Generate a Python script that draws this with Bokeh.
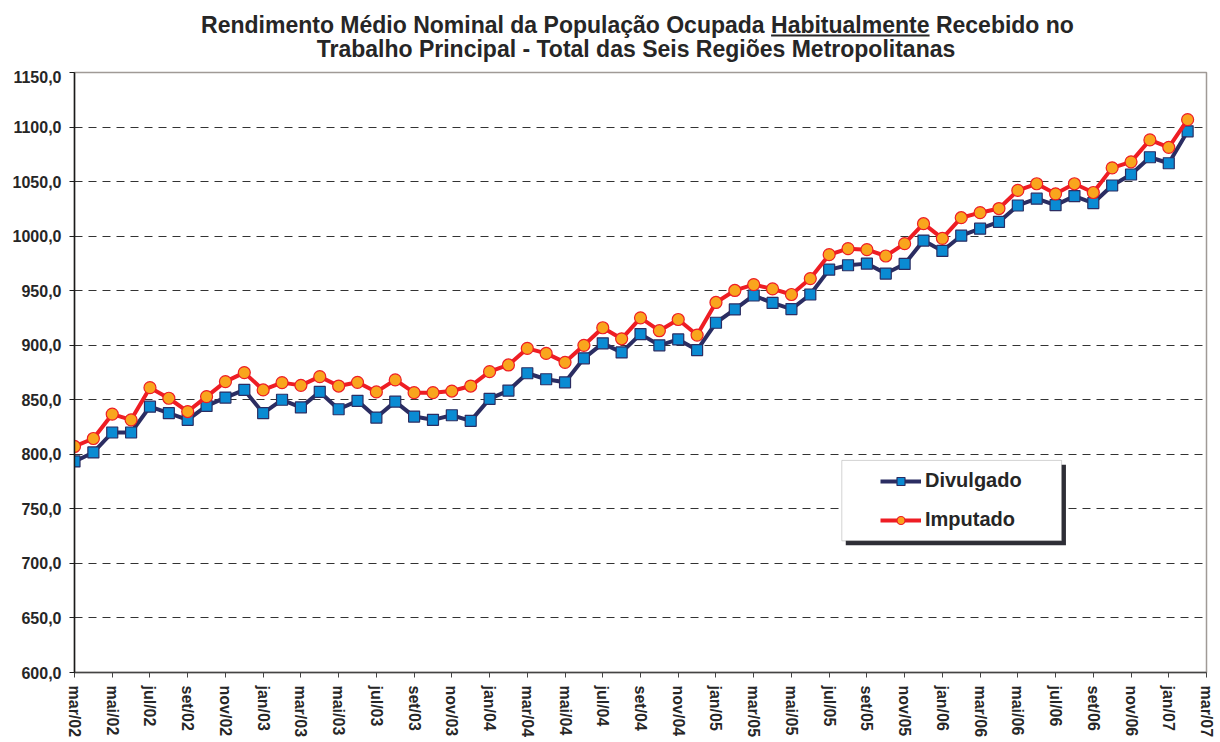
from bokeh.plotting import figure
from bokeh.models import Range1d, FixedTicker, Legend, LegendItem, BoxAnnotation
from bokeh.layouts import column
from bokeh.core.properties import value
from bokeh.embed import file_html
from bokeh.resources import INLINE

# ---------------- data ----------------
months = ["mar/02", "abr/02", "mai/02", "jun/02", "jul/02", "ago/02", "set/02", "out/02", "nov/02", "dez/02",
          "jan/03", "fev/03", "mar/03", "abr/03", "mai/03", "jun/03", "jul/03", "ago/03", "set/03", "out/03", "nov/03", "dez/03",
          "jan/04", "fev/04", "mar/04", "abr/04", "mai/04", "jun/04", "jul/04", "ago/04", "set/04", "out/04", "nov/04", "dez/04",
          "jan/05", "fev/05", "mar/05", "abr/05", "mai/05", "jun/05", "jul/05", "ago/05", "set/05", "out/05", "nov/05", "dez/05",
          "jan/06", "fev/06", "mar/06", "abr/06", "mai/06", "jun/06", "jul/06", "ago/06", "set/06", "out/06", "nov/06", "dez/06",
          "jan/07", "fev/07"]

divulgado = [793.5, 801.7, 820.0, 820.0, 843.7, 837.7, 831.6, 844.4, 852.0, 859.0,
             837.7, 850.0, 843.0, 857.2, 841.3, 849.0, 833.7, 848.3, 834.6, 831.6, 835.8, 830.7,
             850.8, 858.4, 874.3, 868.8, 866.0, 888.0, 901.7, 893.4, 910.2, 899.9, 905.3, 895.6,
             920.6, 932.8, 945.6, 938.8, 933.1, 946.5, 969.3, 973.3, 974.8, 965.7, 974.5, 995.9,
             986.4, 1000.4, 1006.8, 1013.0, 1028.1, 1034.3, 1028.4, 1036.7, 1030.3, 1046.4, 1056.5, 1072.3,
             1066.8, 1096.1]

imputado = [807.2, 814.5, 836.8, 831.6, 861.1, 851.4, 839.2, 852.9, 866.6, 874.9,
            859.0, 865.7, 863.2, 871.2, 862.6, 866.0, 857.2, 868.2, 856.5, 856.5, 858.0, 862.6,
            875.8, 881.9, 897.1, 892.5, 884.3, 899.9, 916.0, 905.9, 925.1, 913.3, 923.6, 909.3,
            939.2, 950.2, 955.6, 951.6, 946.5, 961.1, 983.0, 988.5, 987.6, 981.8, 993.1, 1011.4,
            998.0, 1016.9, 1021.5, 1025.3, 1041.9, 1048.0, 1038.8, 1048.0, 1040.0, 1062.6, 1068.1, 1088.2,
            1081.4, 1106.8]

x_tick_labels = ["mar/02", "mai/02", "jul/02", "set/02", "nov/02",
                 "jan/03", "mar/03", "mai/03", "jul/03", "set/03", "nov/03",
                 "jan/04", "mar/04", "mai/04", "jul/04", "set/04", "nov/04",
                 "jan/05", "mar/05", "mai/05", "jul/05", "set/05", "nov/05",
                 "jan/06", "mar/06", "mai/06", "jul/06", "set/06", "nov/06",
                 "jan/07", "mar/07"]

y_ticks = [600, 650, 700, 750, 800, 850, 900, 950, 1000, 1050, 1100, 1150]

title_line1 = "Rendimento Médio Nominal da População Ocupada Habitualmente Recebido no"
title_line2 = "Trabalho Principal - Total das Seis Regiões Metropolitanas"

# ---------------- layout constants ----------------
FONT = "Liberation Sans"
TXT = "#262626"
W = 1216
TOP_H = 70
ML, MR, MT, MB = 74, 10, 2, 67
MAIN_H = 670

# ---------------- title strip (its own small canvas) ----------------
# In a column the frames are aligned, so the strip's frame spans the same
# pixels as the chart frame: x range is set so that 1 unit = 1 page pixel.
TSIZE = 23
cx = 637.0
# Arial / Liberation Sans Bold advance widths of the title pieces, in em
em_line1, em_before, em_word = 37.95, 24.783, 6.89
em_line2 = 27.898
x1 = cx - em_line1 * TSIZE / 2.0
x2 = cx - em_line2 * TSIZE / 2.0

head = figure(width=W, height=TOP_H, x_range=Range1d(ML, W - MR), y_range=Range1d(TOP_H, 0),
              x_axis_type=None, y_axis_type=None, output_backend="svg", toolbar_location=None,
              min_border=0, min_border_left=ML, min_border_right=MR,
              outline_line_color=None, title=None)
head.grid.visible = False
head.background_fill_color = "white"
head.border_fill_color = "white"
head.text(x=[x1, x2], y=[24, 48], text=[title_line1, title_line2],
          text_align="left", text_baseline="alphabetic",
          text_font=value(FONT), text_font_size=f"{TSIZE}px", text_font_style="bold",
          text_color=TXT)
u0 = x1 + em_before * TSIZE
head.segment(x0=[u0], y0=[35], x1=[u0 + em_word * TSIZE], y1=[35],
             line_color=TXT, line_width=2)

# ---------------- main chart ----------------
x = list(range(len(months)))

p = figure(width=W, height=MAIN_H, title=None,
           x_range=Range1d(0, len(months)), y_range=Range1d(y_ticks[0], y_ticks[-1]),
           output_backend="svg", toolbar_location=None,
           min_border_left=ML, min_border_right=MR, min_border_top=MT, min_border_bottom=MB)

p.background_fill_color = "white"
p.border_fill_color = "white"
p.outline_line_color = "#a09a96"
p.outline_line_width = 1.5

p.xaxis.ticker = FixedTicker(ticks=list(range(0, len(months) + 1, 2)))
p.xaxis.major_label_overrides = {i * 2: lab for i, lab in enumerate(x_tick_labels)}
p.xaxis.major_label_orientation = "vertical"
p.yaxis.ticker = FixedTicker(ticks=y_ticks)
p.yaxis.major_label_overrides = {v: f"{v},0" for v in y_ticks}

for ax in (p.xaxis, p.yaxis):
    ax.major_label_text_font = FONT
    ax.major_label_text_font_style = "bold"
    ax.major_label_text_color = TXT
    ax.major_label_text_font_size = "16px"
    ax.major_tick_in = 0
    ax.major_tick_out = 5
    ax.minor_tick_line_color = None
    ax.major_label_standoff = 8

p.yaxis.axis_line_color = "#1a1a1a"
p.yaxis.major_tick_line_color = "#1a1a1a"
p.xaxis.axis_line_color = "#444444"
p.xaxis.major_tick_line_color = "#444444"
p.yaxis.axis_line_width = 1.5
p.xaxis.axis_line_width = 1.5

p.xgrid.grid_line_color = None
p.ygrid.grid_line_color = "#333333"
p.ygrid.grid_line_dash = "8 6"
p.ygrid.grid_line_width = 1

NAVY = "#2b2d62"
BLUE = "#0a8bd3"
RED = "#ee1d24"
ORANGE = "#f9a51d"

l1 = p.line(x, divulgado, line_color=NAVY, line_width=4)
m1 = p.scatter(x, divulgado, marker="square", size=11, fill_color=BLUE, line_color=NAVY, line_width=1.2)
l2 = p.line(x, imputado, line_color=RED, line_width=4)
m2 = p.scatter(x, imputado, marker="circle", size=12, fill_color=ORANGE, line_color=RED, line_width=1.2)

# legend frame with shadow (drawn separately)
shadow = BoxAnnotation(left=40.88, right=52.55, top=790.4, bottom=716.7,
                       fill_color="#2e2e36", fill_alpha=1.0, line_color=None)
box = BoxAnnotation(left=40.67, right=52.32, top=794.4, bottom=720.7,
                    fill_color="white", fill_alpha=1.0, line_color="#707070", line_width=1)
p.add_layout(shadow)
p.add_layout(box)

legend = Legend(items=[LegendItem(label="Divulgado", renderers=[l1, m1]),
                       LegendItem(label="Imputado", renderers=[l2, m2])],
                location=(796, 131), orientation="vertical",
                glyph_width=41, glyph_height=20, label_standoff=4, spacing=16, padding=10,
                label_text_font=FONT, label_text_font_style="bold", label_text_font_size="20px",
                label_text_color=TXT, background_fill_alpha=0, border_line_alpha=0)
p.add_layout(legend, "center")

page = column(head, p, spacing=0)
open("out.html", "w").write(file_html(page, INLINE))
